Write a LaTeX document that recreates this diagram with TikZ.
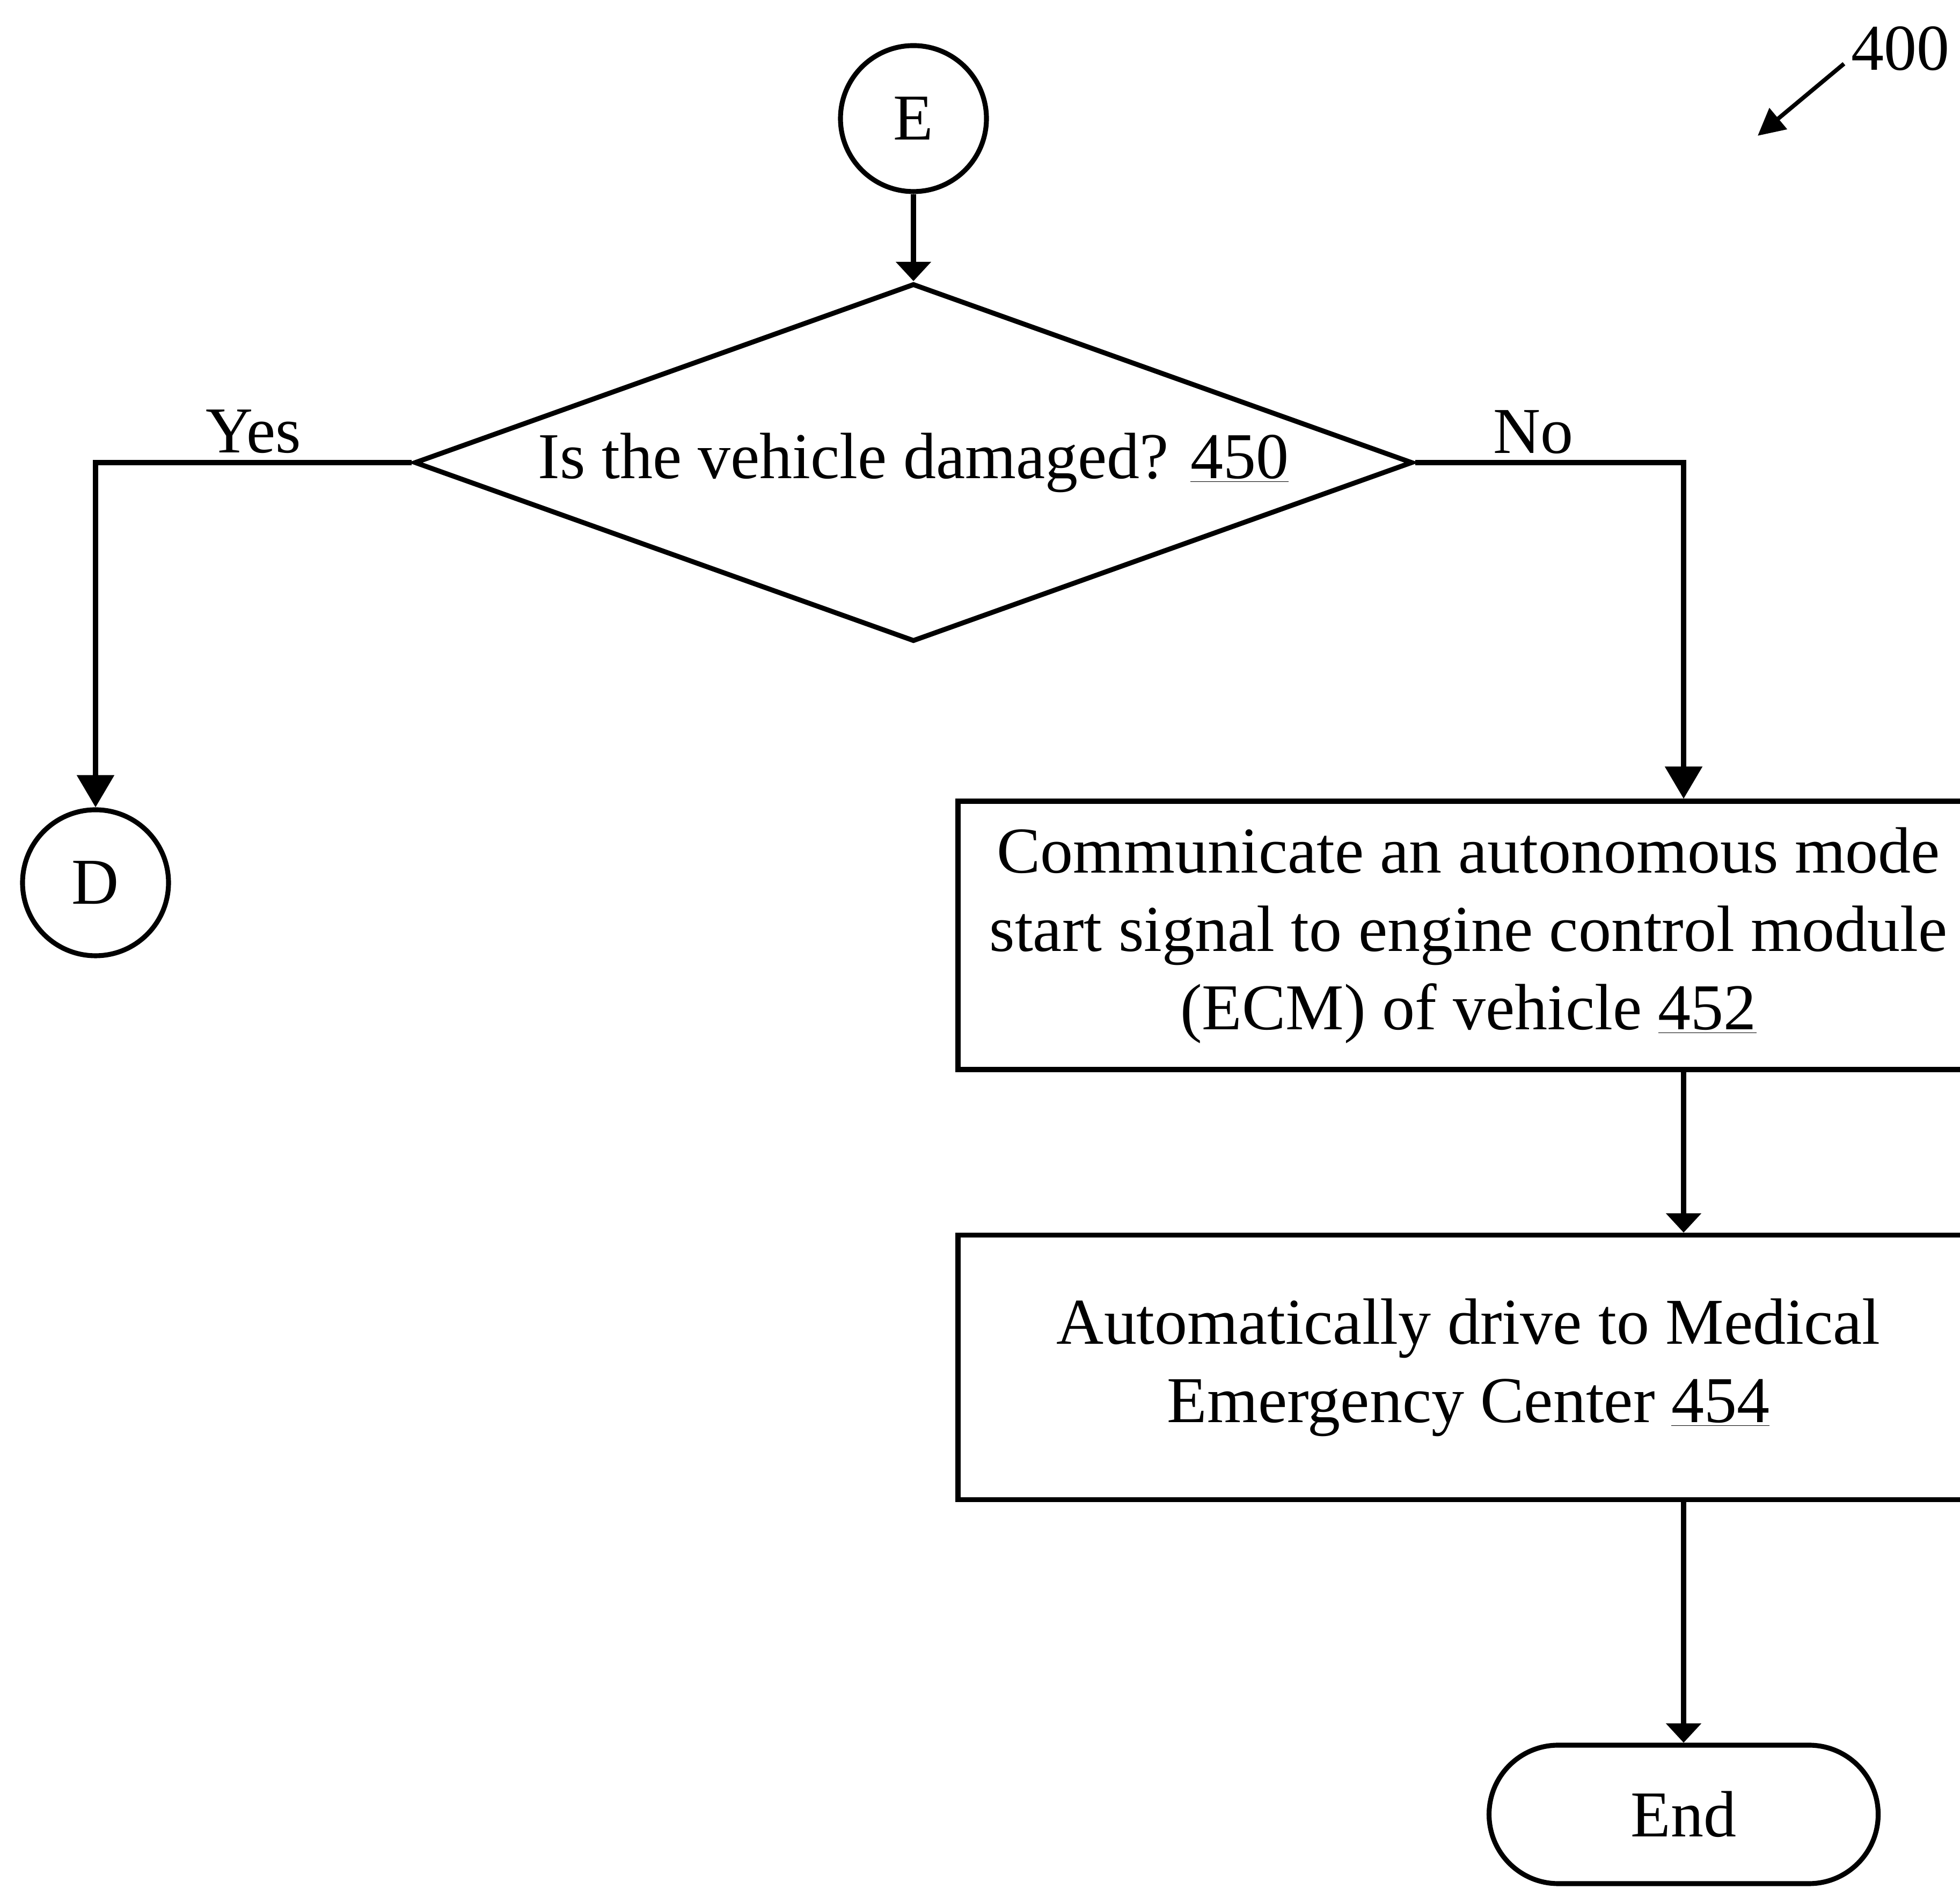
\documentclass[tikz,border=0pt]{standalone}
\usepackage{fontspec}
\setmainfont{Liberation Serif}
\usetikzlibrary{positioning}
\usetikzlibrary{calc}
\usetikzlibrary{shapes.geometric}
\usetikzlibrary{arrows.meta}

\begin{document}
\begin{tikzpicture}[
			node distance=8cm,
			every node/.style={font=\fontsize{34.7}{41.6}\selectfont},
			connector/.style={circle, minimum size=2.72cm, inner sep=0pt, line width=2.6pt, draw=black},
			decision/.style={diamond, aspect=2.79, minimum width=18.6cm, minimum height=6.67cm, inner sep=0pt, line width=2.6pt, draw=black},
			process/.style={rectangle, minimum width=19.02cm, minimum height=5cm, align=center, line width=2.6pt, draw=black},
			terminal/.style={rectangle, rounded corners=1.29cm, minimum width=7.25cm, minimum height=2.58cm, line width=2.6pt, draw=black},
			flow/.style={line width=2.6pt, arrows=-{Triangle[width=0.64cm,length=0.36cm]}},
			branch/.style={line width=2.6pt, arrows=-{Triangle[width=0.68cm,length=0.6cm]}},
			]
			\useasboundingbox (0,0) rectangle (36.52,35.20);
			
			\node[connector]     (E)     at (17.02,32.99)                                              {E};
			\node[decision]      (diam)  [node distance=6.41cm, below of=E]                            {Is the vehicle damaged? \underline{450}};
			\node[connector]     (D)     [node distance=15.24cm, left of=diam, yshift=-7.83cm]         {D};
			\node[process]       (comm)  [node distance=10.34cm, right of=diam, yshift=-8.81cm]        {Communicate an autonomous mode\\start signal to engine control module\\(ECM) of vehicle \underline{452}};
			\node[process, minimum height=4.93cm] (drive) [node distance=8.05cm, below of=comm]     {Automatically drive to Medical\\Emergency Center \underline{454}};
			\node[terminal]      (stop)  [node distance=8.33cm, below of=drive, xshift=4.01cm]         {End};
			\node[inner sep=0pt] (ref)   at (35.41,34.29)                                              {400};
			\coordinate          (reftip) at (32.75,32.67);
			
			\draw [flow]   (E)                 --                                              (diam);
			\draw [branch] (diam.west)         -|node[pos=0.25, above, inner sep=0.13cm]       {Yes}   (D);
			\draw [branch] (diam.east)         -|node[pos=0.22, above]                         {No}    (comm.north -| stop);
			\draw [flow]   (comm.south -| stop) --                                             (drive.north -| stop);
			\draw [flow]   (drive.south -| stop) --                                            (stop);
			\draw [line width=2.2pt, arrows=-{Triangle[width=0.5cm,length=0.5cm]}] ([xshift=-0.13cm, yshift=0.14cm]ref.south west) -- (reftip);
			
\end{tikzpicture}
\end{document}
